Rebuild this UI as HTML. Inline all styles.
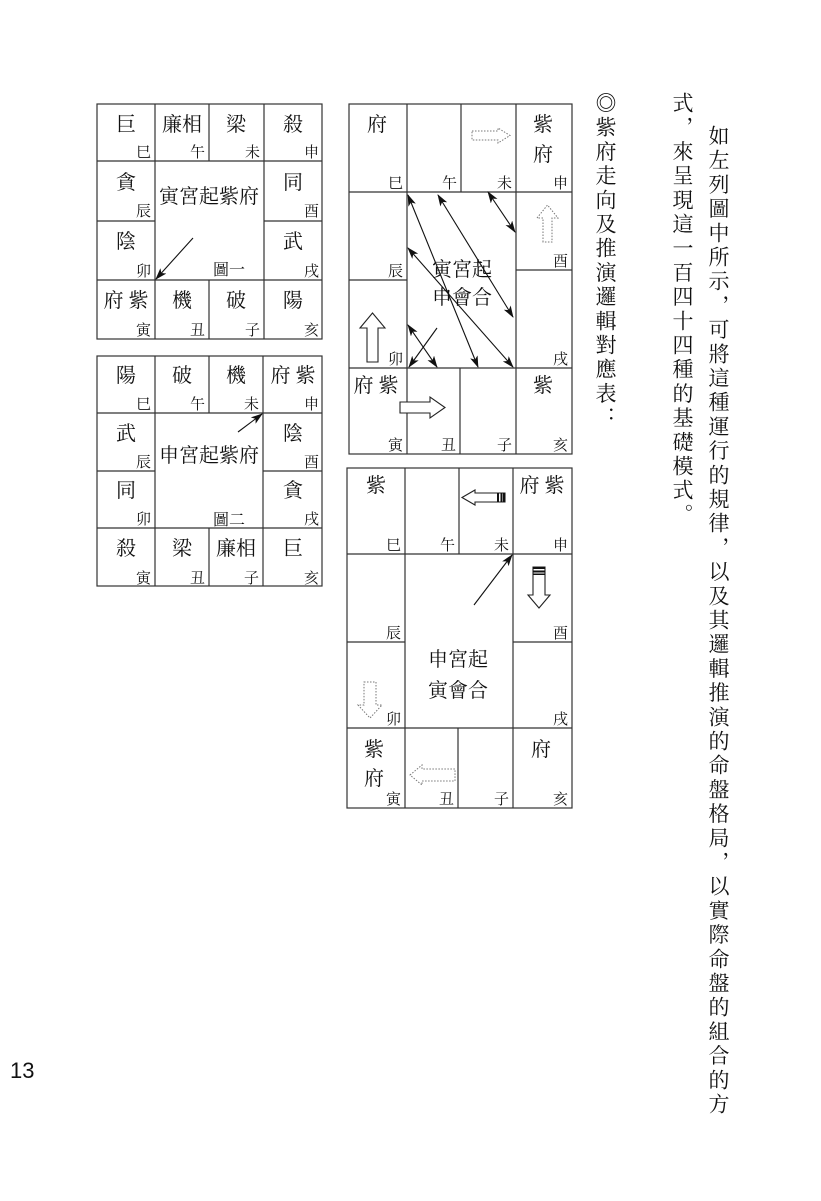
<!DOCTYPE html>
<html><head><meta charset="utf-8">
<style>
html,body{margin:0;padding:0;background:#fff;}
body{width:821px;height:1201px;position:relative;overflow:hidden;}
svg{position:absolute;left:0;top:0;}
.s{font-family:"Liberation Serif","Noto Serif CJK SC",serif;font-size:20px;fill:#111;}
.b{font-family:"Liberation Serif","Noto Serif CJK SC",serif;font-size:15px;fill:#111;text-anchor:end;}
.c{font-family:"Liberation Serif","Noto Serif CJK SC",serif;font-size:20px;fill:#111;text-anchor:middle;}
.v{position:absolute;writing-mode:vertical-rl;font-family:"Liberation Serif","Noto Serif CJK SC",serif;font-size:21px;letter-spacing:3.2px;color:#111;line-height:1;white-space:nowrap;}
</style></head><body>
<svg width="821" height="1201" viewBox="0 0 821 1201">
<defs>
<marker id="ah" viewBox="0 0 12 8" refX="11" refY="4" markerWidth="12" markerHeight="8" markerUnits="userSpaceOnUse" orient="auto-start-reverse">
<path d="M0,0 L12,4 L0,8 L3,4 Z" fill="#111"/>
</marker>
</defs>
<g stroke="#333" stroke-width="1.2" fill="none">
<rect x="97" y="104" width="225" height="235"/>
<line x1="97" y1="161" x2="322" y2="161"/>
<line x1="97" y1="280" x2="322" y2="280"/>
<line x1="97" y1="221" x2="155" y2="221"/>
<line x1="264" y1="221" x2="322" y2="221"/>
<line x1="155" y1="104" x2="155" y2="339"/>
<line x1="264" y1="104" x2="264" y2="339"/>
<line x1="209" y1="104" x2="209" y2="161"/>
<line x1="209" y1="280" x2="209" y2="339"/>
<rect x="97" y="356" width="225" height="230"/>
<line x1="97" y1="413" x2="322" y2="413"/>
<line x1="97" y1="528" x2="322" y2="528"/>
<line x1="97" y1="471" x2="155" y2="471"/>
<line x1="263" y1="471" x2="322" y2="471"/>
<line x1="155" y1="356" x2="155" y2="586"/>
<line x1="263" y1="356" x2="263" y2="586"/>
<line x1="209" y1="356" x2="209" y2="413"/>
<line x1="209" y1="528" x2="209" y2="586"/>
<rect x="349" y="104" width="223" height="350"/>
<line x1="349" y1="192" x2="572" y2="192"/>
<line x1="349" y1="368" x2="572" y2="368"/>
<line x1="349" y1="280" x2="407" y2="280"/>
<line x1="516" y1="270" x2="572" y2="270"/>
<line x1="407" y1="104" x2="407" y2="454"/>
<line x1="516" y1="104" x2="516" y2="454"/>
<line x1="461" y1="104" x2="461" y2="192"/>
<line x1="460" y1="368" x2="460" y2="454"/>
<rect x="347" y="468" width="225" height="340"/>
<line x1="347" y1="554" x2="572" y2="554"/>
<line x1="347" y1="728" x2="572" y2="728"/>
<line x1="347" y1="642" x2="405" y2="642"/>
<line x1="513" y1="642" x2="572" y2="642"/>
<line x1="405" y1="468" x2="405" y2="808"/>
<line x1="513" y1="468" x2="513" y2="808"/>
<line x1="459" y1="468" x2="459" y2="554"/>
<line x1="458" y1="728" x2="458" y2="808"/>
</g>
<g stroke="#111" stroke-width="1.1" fill="none">
<line x1="193" y1="238" x2="156" y2="279" marker-end="url(#ah)"/>
<line x1="238" y1="432" x2="262" y2="414" marker-end="url(#ah)"/>
<line x1="408" y1="195" x2="478" y2="367" marker-start="url(#ah)" marker-end="url(#ah)"/>
<line x1="438" y1="195" x2="513" y2="317" marker-start="url(#ah)" marker-end="url(#ah)"/>
<line x1="488" y1="192" x2="515" y2="232" marker-start="url(#ah)" marker-end="url(#ah)"/>
<line x1="408" y1="248" x2="513" y2="367" marker-start="url(#ah)" marker-end="url(#ah)"/>
<line x1="408" y1="325" x2="437" y2="367" marker-start="url(#ah)" marker-end="url(#ah)"/>
<line x1="437" y1="328" x2="409" y2="367" marker-end="url(#ah)"/>
<line x1="474" y1="605" x2="512" y2="555" marker-end="url(#ah)"/>
</g>
<g stroke="#222" stroke-width="1.1" fill="#fff">
<polygon points="400,402 430,402 430,397 445,407.5 430,418 430,413 400,413"/>
<polygon points="367,362 367,328 360,328 372.5,313 385,328 378,328 378,362"/>
<polygon points="462,497.5 475,490 475,493 505,493 505,502 475,502 475,505"/>
<polygon points="533,567 545,567 545,595 550,595 539,608 528,595 533,595"/>
</g>
<g fill="#111">
<rect x="497" y="493" width="2" height="9"/><rect x="500.5" y="493" width="2" height="9"/><rect x="503" y="493" width="2" height="9"/>
<rect x="533" y="567" width="12" height="2"/><rect x="533" y="570.5" width="12" height="2"/><rect x="533" y="573.5" width="12" height="1.5"/>
</g>
<g stroke="#777" stroke-width="1" fill="#fff" stroke-dasharray="1.5 1.5">
<polygon points="472,131 498,131 498,128 510,135.5 498,143 498,140 472,140"/>
<polygon points="543,242 543,218 537,218 547.5,205 558,218 552,218 552,242"/>
<polygon points="364,682 376,682 376,705 382,705 370,718 358,705 364,705"/>
<polygon points="410,775 422,765 422,769 455,769 455,781 422,781 422,785"/>
</g>
<text class="c" x="126" y="131">巨</text><text class="b" x="151" y="157">巳</text>
<text class="c" x="182" y="131">廉相</text><text class="b" x="205" y="157">午</text>
<text class="c" x="236" y="131">梁</text><text class="b" x="260" y="157">未</text>
<text class="c" x="293" y="131">殺</text><text class="b" x="319" y="157">申</text>
<text class="c" x="126" y="189">貪</text><text class="b" x="151" y="216">辰</text>
<text class="c" x="126" y="248">陰</text><text class="b" x="151" y="276">卯</text>
<text class="c" x="293" y="189">同</text><text class="b" x="319" y="216">酉</text>
<text class="c" x="293" y="248">武</text><text class="b" x="319" y="276">戌</text>
<text class="c" x="126" y="307">府 紫</text><text class="b" x="151" y="335">寅</text>
<text class="c" x="182" y="307">機</text><text class="b" x="205" y="335">丑</text>
<text class="c" x="236" y="307">破</text><text class="b" x="260" y="335">子</text>
<text class="c" x="293" y="307">陽</text><text class="b" x="319" y="335">亥</text>
<text class="c" x="209" y="203">寅宮起紫府</text>
<text class="c" x="229" y="275" style="font-size:16px">圖一</text>
<text class="c" x="126" y="382">陽</text><text class="b" x="151" y="409">巳</text>
<text class="c" x="182" y="382">破</text><text class="b" x="205" y="409">午</text>
<text class="c" x="236" y="382">機</text><text class="b" x="259" y="409">未</text>
<text class="c" x="293" y="382">府 紫</text><text class="b" x="319" y="409">申</text>
<text class="c" x="126" y="440">武</text><text class="b" x="151" y="467">辰</text>
<text class="c" x="126" y="497">同</text><text class="b" x="151" y="524">卯</text>
<text class="c" x="293" y="440">陰</text><text class="b" x="319" y="467">酉</text>
<text class="c" x="293" y="497">貪</text><text class="b" x="319" y="524">戌</text>
<text class="c" x="126" y="555">殺</text><text class="b" x="151" y="583">寅</text>
<text class="c" x="182" y="555">梁</text><text class="b" x="205" y="583">丑</text>
<text class="c" x="236" y="555">廉相</text><text class="b" x="259" y="583">子</text>
<text class="c" x="293" y="555">巨</text><text class="b" x="319" y="583">亥</text>
<text class="c" x="209" y="462">申宮起紫府</text>
<text class="c" x="229" y="525" style="font-size:16px">圖二</text>
<text class="c" x="377" y="131">府</text><text class="b" x="403" y="188">巳</text>
<text class="b" x="457" y="188">午</text>
<text class="b" x="512" y="188">未</text>
<text class="c" x="543" y="131">紫</text><text class="c" x="543" y="161">府</text><text class="b" x="568" y="188">申</text>
<text class="b" x="403" y="276">辰</text>
<text class="b" x="403" y="364">卯</text>
<text class="b" x="568" y="266">酉</text>
<text class="b" x="568" y="364">戌</text>
<text class="c" x="376" y="392">府 紫</text><text class="b" x="403" y="450">寅</text>
<text class="b" x="456" y="450">丑</text>
<text class="b" x="512" y="450">子</text>
<text class="c" x="543" y="392">紫</text><text class="b" x="568" y="450">亥</text>
<text class="c" x="462" y="276">寅宮起</text>
<text class="c" x="462" y="304">申會合</text>
<text class="c" x="376" y="492">紫</text><text class="b" x="401" y="550">巳</text>
<text class="b" x="455" y="550">午</text>
<text class="b" x="509" y="550">未</text>
<text class="c" x="542" y="492">府 紫</text><text class="b" x="568" y="550">申</text>
<text class="b" x="401" y="638">辰</text>
<text class="b" x="401" y="724">卯</text>
<text class="b" x="568" y="638">酉</text>
<text class="b" x="568" y="724">戌</text>
<text class="c" x="374" y="756">紫</text><text class="c" x="374" y="785">府</text><text class="b" x="401" y="804">寅</text>
<text class="b" x="454" y="804">丑</text>
<text class="b" x="509" y="804">子</text>
<text class="c" x="541" y="756">府</text><text class="b" x="568" y="804">亥</text>
<text class="c" x="458" y="666">申宮起</text>
<text class="c" x="458" y="697">寅會合</text>
<text x="10" y="1078" style="font-family:'Liberation Sans',sans-serif;font-size:22px;fill:#111">13</text>
</svg>
<div class="v" style="left:594px;top:92px;">◎紫府走向及推演邏輯對應表：</div>
<div class="v" style="left:671px;top:92px;">式，來呈現這一百四十四種的基礎模式。</div>
<div class="v" style="left:707px;top:125px;">如左列圖中所示，可將這種運行的規律，以及其邏輯推演的命盤格局，以實際命盤的組合的方</div>
</body></html>
